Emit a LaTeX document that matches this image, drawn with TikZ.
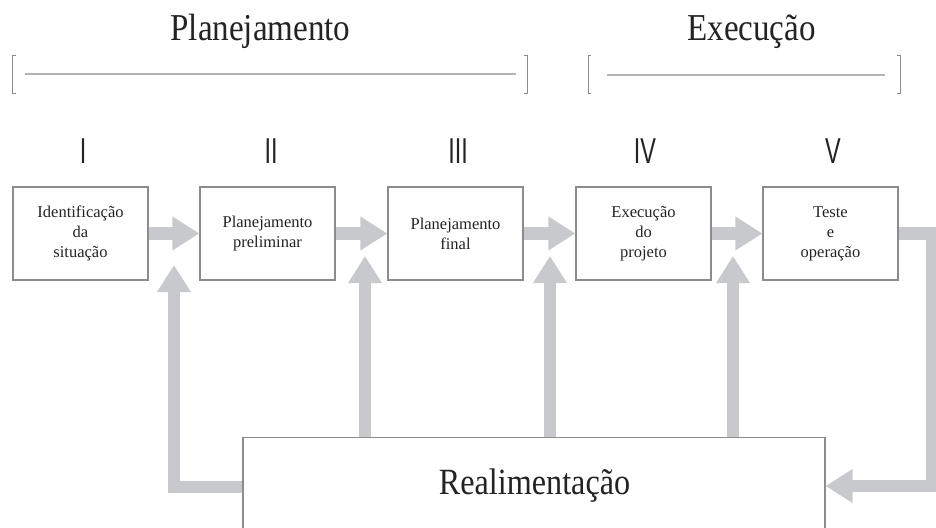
\documentclass[tikz,border=0pt]{standalone}
\usepackage{fontspec}
\setmainfont{Liberation Serif}
\newfontfamily\headfont[FakeStretch=0.87]{Liberation Serif}
\newfontfamily\numfont[FakeStretch=0.65]{Liberation Sans}
\usetikzlibrary{arrows.meta}
\definecolor{flowgray}{RGB}{200,201,204}
\definecolor{boxgray}{RGB}{140,140,140}
\definecolor{rulegray}{RGB}{180,180,180}
\definecolor{inkgray}{RGB}{35,35,35}

\begin{document}
\begin{tikzpicture}[x=1pt,y=-1pt,
  phase/.style={draw=boxgray,line width=1.1pt,fill=white,minimum width=135pt,minimum height=93pt,inner sep=0pt,align=center,text=inkgray,font=\fontsize{16.5}{20}\selectfont},
  flow/.style={draw=flowgray,line width=12.5pt,line join=miter,-{Triangle[length=27pt,width=32pt]}},
  head/.style={text=inkgray,font=\headfont\fontsize{38}{40}\selectfont},
  numeral/.style={text=inkgray,font=\numfont\fontsize{36}{38}\selectfont},
  bracket/.style={draw=boxgray,line width=1pt},
  span/.style={draw=rulegray,line width=2pt}]

\useasboundingbox (0,0) rectangle (936,527);
\clip (0,0) rectangle (936,527);

% phases
\node[head,anchor=base] (plan) at (260.5,41) {Planejamento};
\node[head,anchor=base] (exec) at (751.5,41) {Execução};
\draw[bracket] (15.5,56) -- (12.5,56) -- (12.5,93) -- (15.5,93);
\draw[span] (25,74) -- (516,74);
\draw[bracket] (524,56) -- (527,56) -- (527,93) -- (524,93);
\draw[bracket] (591,56) -- (588,56) -- (588,93) -- (591,93);
\draw[span] (607,75) -- (885,75);
\draw[bracket] (897,56) -- (900,56) -- (900,93) -- (897,93);

% steps
\node[numeral,anchor=base] (n1) at (83,163) {I};
\node[numeral,anchor=base] (n2) at (271,163) {II};
\node[numeral,anchor=base] (n3) at (458,163) {III};
\node[numeral,anchor=base] (n4) at (645,163) {IV};
\node[numeral,anchor=base] (n5) at (833,163) {V};

\node[phase] (b1) at (80.5,233.5) {Identificação\\da\\situação};
\node[phase] (b2) at (267.5,233.5) {Planejamento\\preliminar};
\node[phase] (b3) at (455.5,233.5) {Planejamento\\final};
\node[phase] (b4) at (643.5,233.5) {Execução\\do\\projeto};
\node[phase] (b5) at (830.5,233.5) {Teste\\e\\operação};

\draw[flow] (b1) -- (b2);
\draw[flow] (b2) -- (b3);
\draw[flow] (b3) -- (b4);
\draw[flow] (b4) -- (b5);

% feedback
\node[draw=boxgray,line width=1.1pt,fill=white,minimum width=582pt,minimum height=110pt,inner sep=0pt,anchor=north] (fb) at (534,437) {};
\node[head,font=\headfont\fontsize{37}{40}\selectfont,anchor=base] (fbtext) at (534.5,494) {Realimentação};

\coordinate (c1) at (174,487);
\coordinate (t1) at (174,265);
\coordinate (t2) at (365,256);
\coordinate (t3) at (550,256);
\coordinate (t4) at (733,256);
\coordinate (r1) at (932,233.5);
\coordinate (r2) at (932,486);

\draw[flow] (fb.west |- c1) -- (c1) -- (t1);
\draw[flow] (fb.north -| t2) -- (t2);
\draw[flow] (fb.north -| t3) -- (t3);
\draw[flow] (fb.north -| t4) -- (t4);
\draw[flow] (b5) -- (r1) -- (r2) -- (fb.east |- r2);

\end{tikzpicture}
\end{document}
